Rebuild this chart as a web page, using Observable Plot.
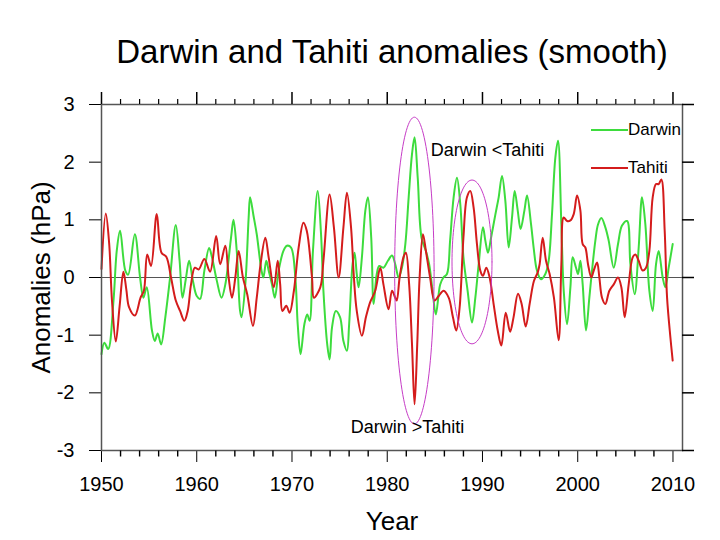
<!DOCTYPE html>
<html><head><meta charset="utf-8">
<script src="https://cdn.jsdelivr.net/npm/d3@7"></script>
<script src="https://cdn.jsdelivr.net/npm/@observablehq/plot@0.6"></script>
<style>
body{margin:0;background:#fff;font-family:"Liberation Sans",Arial,sans-serif;}
#wrap{position:relative;width:720px;height:540px;overflow:hidden;}
#wrap svg{position:absolute;left:0;top:0;}
.leg{position:absolute;left:591px;height:20px;display:flex;align-items:center;font-size:17px;color:#000;line-height:20px;}
.leg .sw{display:inline-block;width:37px;height:0;border-top:2px solid;}
</style></head><body><div id="wrap"></div>
<script>
// ---- data ----
const darwinYears = [1950.0,1950.3,1950.7,1951.26,1951.6,1951.95,1952.5,1952.8,1953.5,1954.05,1954.4,1954.75,1955.3,1955.6,1955.9,1956.26,1956.7,1957.2,1957.8,1958.2,1958.5,1958.85,1959.2,1959.6,1960.0,1960.35,1960.8,1961.3,1961.6,1962.1,1962.6,1963.0,1963.6,1963.86,1964.2,1964.55,1964.7,1965.1,1965.45,1965.6,1965.96,1966.3,1966.8,1967.0,1967.3,1967.55,1967.9,1968.2,1968.6,1969.1,1969.46,1969.9,1970.35,1970.6,1970.9,1971.3,1971.6,1971.85,1972.2,1972.7,1973.05,1973.3,1973.7,1973.95,1974.2,1974.6,1975.05,1975.4,1975.77,1976.0,1976.36,1976.57,1976.8,1977.0,1977.34,1977.7,1977.97,1978.32,1978.57,1978.9,1979.16,1979.6,1980.07,1980.5,1980.84,1981.2,1981.54,1981.9,1982.25,1982.6,1982.87,1983.2,1983.6,1984.06,1984.4,1984.76,1985.1,1985.56,1985.9,1986.27,1986.6,1986.97,1987.32,1987.67,1988.0,1988.44,1988.9,1989.25,1989.6,1990.05,1990.3,1990.58,1990.9,1991.35,1991.7,1992.05,1992.4,1992.75,1993.1,1993.38,1993.7,1994.0,1994.4,1994.68,1995.1,1995.37,1995.72,1996.14,1996.6,1996.95,1997.3,1997.65,1997.93,1998.28,1998.53,1998.88,1999.23,1999.47,1999.82,2000.03,2000.28,2000.52,2000.87,2001.22,2001.5,2001.85,2002.13,2002.48,2002.9,2003.25,2003.78,2004.23,2004.65,2005.18,2005.53,2005.98,2006.4,2006.75,2007.1,2007.52,2007.87,2008.22,2008.5,2008.92,2009.2,2009.55,2009.97];
const darwinValues = [-1.33,-1.13,-1.24,-0.40,0.46,0.81,0.12,0.05,0.75,0.0,-0.35,-0.17,-0.92,-1.1,-0.97,-1.16,-0.69,0.0,0.91,0.29,-0.35,-0.03,0.29,-0.06,-0.32,-0.37,0.12,0.51,0.35,-0.05,-0.35,-0.12,0.69,1.0,0.46,-0.58,-0.69,-0.12,1.04,1.39,1.07,0.75,0.12,0.0,0.29,0.12,-0.12,-0.35,0.12,0.46,0.55,0.52,0.0,-0.81,-1.33,-0.81,-0.64,-0.75,0.46,1.5,0.75,-0.23,-1.16,-1.42,-0.87,-0.58,-0.69,-1.1,-1.27,-0.81,0.23,0.43,0.06,-0.17,0.35,1.16,1.39,0.69,-0.46,0.06,0.20,0.17,0.29,0.38,0.23,0.0,0.17,0.58,1.39,2.14,2.43,1.73,0.69,0.46,0.23,-0.23,-0.64,-0.12,0.0,0.06,0.64,1.39,1.73,1.27,0.35,-0.23,-0.78,-0.35,0.23,0.87,0.64,0.43,0.69,1.09,1.39,1.76,1.33,0.52,1.04,1.50,1.16,0.84,1.16,1.42,0.92,0.52,0.12,-0.03,0.06,0.29,1.10,2.08,2.37,0.92,-0.23,-0.81,-0.17,0.35,0.17,0.06,0.29,-0.12,-0.92,-0.35,0.12,0.64,0.92,1.03,0.87,0.64,0.17,0.58,0.90,0.98,0.23,-0.29,0.52,1.39,0.92,-0.23,-0.58,0.23,0.46,0.0,-0.17,0.17,0.58];

const tahitiYears = [1950.0,1950.45,1950.8,1951.1,1951.5,1951.9,1952.3,1952.6,1952.9,1953.5,1954.1,1954.45,1954.8,1955.2,1955.8,1956.3,1956.8,1957.3,1957.8,1958.25,1958.7,1959.05,1959.4,1959.8,1960.2,1960.8,1961.4,1962.04,1962.46,1963.0,1963.35,1963.7,1964.05,1964.4,1964.85,1965.3,1965.9,1966.3,1966.7,1967.2,1967.55,1968.1,1968.5,1968.76,1969.0,1969.4,1969.75,1970.2,1970.7,1971.2,1971.55,1972.1,1972.3,1972.97,1973.3,1973.95,1974.4,1974.9,1975.4,1975.77,1976.2,1976.5,1976.8,1977.34,1977.76,1978.2,1978.74,1979.27,1979.6,1980.14,1980.5,1980.84,1981.0,1981.3,1981.7,1981.96,1982.3,1982.6,1982.87,1983.15,1983.4,1983.75,1984.06,1984.5,1984.97,1985.4,1985.92,1986.45,1986.9,1987.25,1987.6,1988.0,1988.37,1988.72,1989.07,1989.42,1989.77,1990.05,1990.4,1990.75,1991.17,1991.6,1991.98,1992.44,1992.9,1993.25,1993.73,1994.1,1994.54,1994.95,1995.4,1995.8,1996.0,1996.32,1996.67,1997.05,1997.5,1998.0,1998.28,1998.53,1998.88,1999.23,1999.58,1999.93,2000.28,2000.52,2000.8,2001.08,2001.43,2001.68,2002.03,2002.27,2002.55,2002.9,2003.32,2003.78,2004.23,2004.58,2004.93,2005.35,2005.77,2006.05,2006.4,2006.82,2007.17,2007.52,2007.87,2008.22,2008.5,2008.78,2009.13,2009.38,2009.73,2009.97];
const tahitiValues = [0.15,1.11,0.6,-0.4,-1.11,-0.5,0.10,-0.2,-0.52,-0.66,-0.35,-0.23,0.40,0.20,1.10,0.43,0.36,0.0,-0.40,-0.58,-0.75,-0.58,-0.12,0.17,0.14,0.32,0.1,0.72,0.23,0.55,0.0,-0.35,0.0,0.46,0.0,-0.29,-0.84,-0.35,0.23,0.69,0.35,-0.17,0.29,-0.12,-0.58,-0.49,-0.61,-0.23,0.52,0.95,0.81,0.0,-0.35,-0.17,0.29,1.44,0.87,0.0,0.87,1.47,0.87,0.0,-0.58,-1.01,-0.69,-0.43,-0.23,0.17,-0.12,-0.55,-0.23,-0.35,-0.40,0.0,0.35,0.43,-0.12,-1.16,-2.2,-1.16,0.0,0.75,0.46,0.0,-0.40,-0.32,-0.23,-0.35,-0.69,-0.92,-0.52,0.69,1.39,1.50,1.21,0.58,0.12,0.03,0.17,0.0,-0.46,-0.92,-1.18,-0.61,-0.94,-0.7,-0.28,-0.45,-0.85,-0.46,-0.06,0.09,0.23,0.69,0.29,0.06,-0.35,-1.09,0.23,1.04,0.98,0.99,1.1,1.42,1.16,0.58,0.52,0.23,0.0,0.12,0.26,0.0,-0.35,-0.46,-0.23,-0.12,0.0,-0.17,-0.69,-0.12,0.35,0.40,0.29,0.12,0.17,0.46,1.39,1.62,1.62,1.70,0.81,-0.35,-1.04,-1.44];

const majorYears = [1950,1960,1970,1980,1990,2000,2010];
const minorYears = [1952,1954,1956,1958,1962,1964,1966,1968,1972,1974,1976,1978,1982,1984,1986,1988,1992,1994,1996,1998,2002,2004,2006,2008];
const yTicks = [-3,-2,-1,0,1,2,3];

const seriesNames = ["Darwin","Tahiti"];
const seriesColors = ["#3ddc3d","#d41c1c"];

// annotation ellipses: centre year, centre value, half-width (years), half-height (hPa)
const ellipseCx = [1982.85, 1988.9];
const ellipseCy = [0.12, 0.27];
const ellipseRx = [2.07, 2.1];
const ellipseRy = [2.66, 1.42];

const noteLabels = ["Darwin <Tahiti","Darwin >Tahiti"];
const noteYears = [1984.56, 1976.16];
const noteValues = [2.21, -2.6];

const titleText = "Darwin and Tahiti anomalies (smooth)";
const xTitle = "Year";
const yTitle = "Anomalies (hPa)";

// ---- build tables ----
const darwin = darwinYears.map((y,i)=>({year:y, value:darwinValues[i]}));
const tahiti = tahitiYears.map((y,i)=>({year:y, value:tahitiValues[i]}));
const ellipsePts = [];
ellipseCx.forEach((cx,k)=>{
  for(let a=0;a<=360;a+=3){
    const t=a*Math.PI/180;
    ellipsePts.push({id:k, year:cx+ellipseRx[k]*Math.cos(t), value:ellipseCy[k]+ellipseRy[k]*Math.sin(t)});
  }
});
const notes = noteLabels.map((l,i)=>({label:l, year:noteYears[i], value:noteValues[i]}));
const yMin = yTicks[0], yMax = yTicks[yTicks.length-1];
const xMin = 1950, xMax = 2011;

const W = 720, H = 540, mT = 104, mB = 90, mL = 101, mR = 38;
// pixels per data unit, used to give the outward ticks a pixel length
const pxPerY = (H - mT - mB) / (yMax - yMin);
const pxPerX = (W - mL - mR) / (xMax - xMin);
const majLen = 12, minLen = 5;

const font = "Liberation Sans, Arial, Helvetica, sans-serif";
const chart = Plot.plot({
  width:W, height:H,
  marginTop:mT, marginBottom:mB, marginLeft:mL, marginRight:mR,
  x:{domain:[xMin,xMax], label:null, ticks:majorYears, tickSize:majLen, tickPadding:14, tickFormat:d=>String(d)},
  y:{domain:[yMin,yMax], label:null, ticks:yTicks, tickSize:majLen, tickPadding:15, tickFormat:d=>String(d)},
  style:{fontFamily:font, fontSize:"20px", background:"white", color:"black", overflow:"visible"},
  marks:[
    Plot.ruleY([0], {stroke:"#555", strokeWidth:1.2}),
    Plot.line(darwin, {x:"year", y:"value", stroke:seriesColors[0], strokeWidth:2, curve:"catmull-rom"}),
    Plot.line(tahiti, {x:"year", y:"value", stroke:seriesColors[1], strokeWidth:2, curve:"catmull-rom"}),
    Plot.line(ellipsePts, {x:"year", y:"value", z:"id", stroke:"#c63cc6", strokeWidth:1, curve:"linear"}),
    Plot.text(notes, {x:"year", y:"value", text:"label", textAnchor:"start", fontSize:18, fill:"black"}),
    Plot.frame({stroke:"#555", strokeWidth:1.5}),
    // outward ticks on the top, bottom (minor) and right sides
    Plot.ruleX(majorYears, {x:d=>d, y1:yMax, y2:yMax + majLen/pxPerY, stroke:"black", strokeWidth:1.5}),
    Plot.ruleX(minorYears, {x:d=>d, y1:yMax, y2:yMax + minLen/pxPerY, stroke:"black", strokeWidth:1.2}),
    Plot.link(minorYears, {x1:d=>d, x2:d=>d, y1:yMin, y2:yMin - (minLen+1)/pxPerY, stroke:"black", strokeWidth:1.4}),
    Plot.ruleY(yTicks, {y:d=>d, x1:xMax, x2:xMax + majLen/pxPerX, stroke:"black", strokeWidth:1.5}),
    Plot.text([titleText], {frameAnchor:"top", lineAnchor:"middle", dy:-52, fontSize:33, fill:"black"}),
    Plot.text([xTitle], {frameAnchor:"bottom", lineAnchor:"middle", dy:71, fontSize:26, fill:"black"}),
    Plot.text([yTitle], {frameAnchor:"left", textAnchor:"middle", lineAnchor:"middle", dx:-60, rotate:-90, fontSize:26, fill:"black"})
  ]
});
const wrap = document.getElementById("wrap");
wrap.appendChild(chart);

// legend (top-right inside the plot area)
const legTops = [120, 158];
seriesNames.forEach((n,i)=>{
  const d = document.createElement("div");
  d.className = "leg";
  d.style.top = legTops[i] + "px";
  const sw = document.createElement("span");
  sw.className = "sw";
  sw.style.borderTopColor = seriesColors[i];
  const t = document.createElement("span");
  t.textContent = n;
  d.appendChild(sw); d.appendChild(t);
  wrap.appendChild(d);
});
</script>
</body></html>
